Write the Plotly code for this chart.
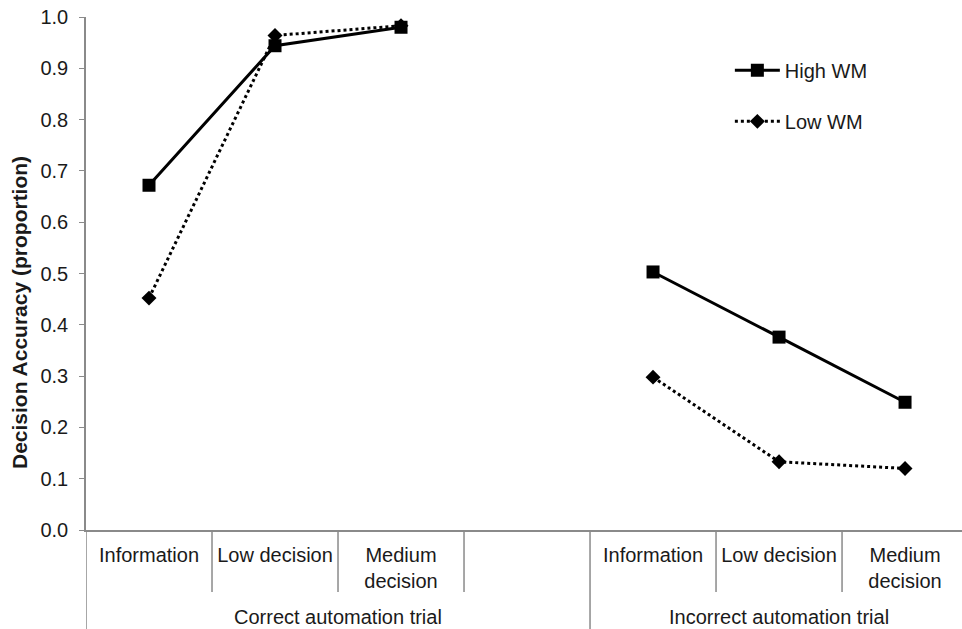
import plotly.graph_objects as go

categories = ["Information", "Low decision", "Medium<br>decision", "",
              "Information", "Low decision", "Medium<br>decision"]
groups = ["Correct automation trial", "Incorrect automation trial"]
high_wm = [0.672, 0.944, 0.980, None, 0.503, 0.376, 0.249]
low_wm = [0.452, 0.964, 0.983, None, 0.298, 0.133, 0.120]
y_title = "Decision Accuracy (proportion)"

xs = list(range(len(categories)))
FONT = "Liberation Sans, Arial, sans-serif"
TXT = "#1a1a1a"
AX = "#8a8a8a"
FS = 20

fig = go.Figure()
fig.add_trace(go.Scatter(
    x=xs, y=high_wm, name="High WM", mode="lines+markers",
    line=dict(color="black", width=3),
    marker=dict(symbol="square", size=13, color="black"),
    connectgaps=False, legendgroup="a"))
fig.add_trace(go.Scatter(
    x=xs, y=low_wm, name="Low WM", mode="lines+markers",
    line=dict(color="black", width=3, dash="dot"),
    marker=dict(symbol="diamond", size=11.5, color="black"),
    connectgaps=False, legendgroup="b"))

# category separators
short_y = -62 / 513
full_y = -99 / 513
for b in [0.5, 1.5, 2.5, 4.5, 5.5]:
    fig.add_shape(type="line", xref="x", yref="paper", x0=b, x1=b, y0=0, y1=short_y,
                  line=dict(color=AX, width=1.5))
for b in [-0.5, 3.5]:
    fig.add_shape(type="line", xref="x", yref="paper", x0=b, x1=b, y0=0, y1=full_y,
                  line=dict(color=AX, width=1.5))

# group labels
for gx, gt in zip([1.5, 5.0], groups):
    fig.add_annotation(x=gx, y=-87 / 513, xref="x", yref="paper", text=gt,
                       showarrow=False, font=dict(size=FS, color=TXT, family=FONT),
                       yanchor="middle")

# y-axis title
fig.add_annotation(x=-67 / 876, y=(530 - 313) / 513, xref="paper", yref="paper",
                   text="<b>" + y_title + "</b>", textangle=-90, showarrow=False,
                   xanchor="center", yanchor="middle",
                   font=dict(size=21, color=TXT, family=FONT))

fig.update_layout(
    width=962, height=629,
    margin=dict(l=86, r=0, t=17, b=99, autoexpand=False),
    plot_bgcolor="white", paper_bgcolor="white",
    font=dict(family=FONT, color=TXT, size=FS),
    showlegend=True,
    legend=dict(x=0.735, y=0.934, xanchor="left", yanchor="top",
                font=dict(size=FS, color=TXT, family=FONT),
                tracegroupgap=22, itemwidth=45, bgcolor="rgba(0,0,0,0)"),
    xaxis=dict(range=[-0.5, 6.452], tickmode="array", tickvals=xs, ticktext=categories,
               showgrid=False, zeroline=False, showline=True, linecolor=AX, linewidth=1.5,
               ticks="", automargin=False, ticklabelstandoff=6,
               tickfont=dict(size=FS, color=TXT, family=FONT)),
    yaxis=dict(range=[0, 1], dtick=0.1, tickformat=".1f", showgrid=False, zeroline=False,
               showline=True, linecolor=AX, linewidth=1.5, ticks="outside", ticklen=5,
               tickcolor=AX, automargin=False, ticklabelstandoff=7,
               tickfont=dict(size=FS, color=TXT, family=FONT)),
)

fig.write_html("out.html", config={"displayModeBar": False},
               post_script="document.body.style.margin='0';document.body.style.overflow='hidden';")
